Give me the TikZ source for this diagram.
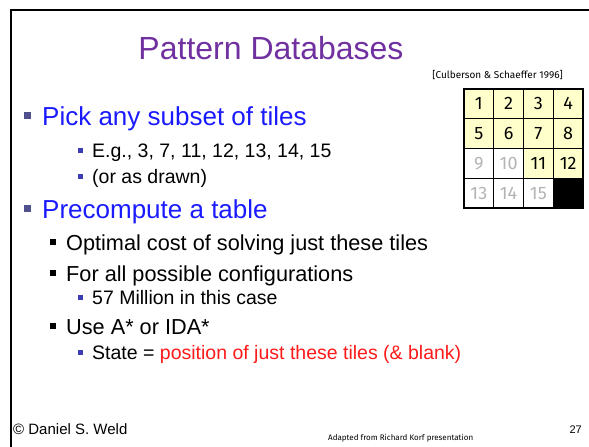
\documentclass[tikz,border=0pt]{standalone}
\usepackage{fontspec}
\setmainfont{Liberation Sans}
\newfontfamily\comicfont{Fira Sans}
\definecolor{titlepurple}{HTML}{7030A0}
\definecolor{topblue}{HTML}{1A1AFF}
\definecolor{bulletblue}{HTML}{3C3CB4}
\definecolor{bulletslate}{HTML}{50508C}
\definecolor{tileyellow}{HTML}{FFFFCC}
\definecolor{tilegray}{HTML}{B4B4B4}
\definecolor{statered}{HTML}{FF1A1A}

\begin{document}
\begin{tikzpicture}[x=1pt,y=-1pt,
  txt/.style={anchor=base west,inner sep=0pt},
  lvlone/.style={txt,font=\fontsize{26}{26}\selectfont,text=topblue},
  lvltwo/.style={txt,font=\fontsize{21.7}{21.7}\selectfont},
  lvlsub/.style={txt,font=\fontsize{19.5}{19.5}\selectfont},
  bulone/.style={fill=bulletslate,minimum size=7pt,inner sep=0pt},
  bultwo/.style={fill=black,minimum size=6pt,inner sep=0pt},
  bulsub/.style={fill=bulletblue,minimum size=5pt,inner sep=0pt},
  tile/.style={draw,line width=1.1pt,minimum size=29.75pt,inner sep=0pt,
    font=\comicfont\fontsize{18}{18}\selectfont}]
\useasboundingbox (0,0) rectangle (589,447);
\draw[line width=2.2pt] (589,10) -- (11,10) -- (11,447);
\node[anchor=base,inner sep=0pt,text=titlepurple,font=\fontsize{32}{32}\selectfont] (title) at (271,59) {Pattern Databases};
\node[anchor=base east,inner sep=0pt,font=\comicfont\fontsize{10}{10}\selectfont] (cite) at (563,78) {[Culberson \& Schaeffer 1996]};
% the 15-puzzle, pattern tiles in yellow
\foreach\n/\c/\r/\fl/\tc in {1/0/0/tileyellow/black,2/1/0/tileyellow/black,3/2/0/tileyellow/black,4/3/0/tileyellow/black,
  5/0/1/tileyellow/black,6/1/1/tileyellow/black,7/2/1/tileyellow/black,8/3/1/tileyellow/black,
  9/0/2/white/tilegray,10/1/2/white/tilegray,11/2/2/tileyellow/black,12/3/2/tileyellow/black,
  13/0/3/white/tilegray,14/1/3/white/tilegray,15/2/3/white/tilegray}{
  \node[tile,fill=\fl,text=\tc] (t\n) at (464+29.75*\c+14.875,89+29.75*\r+14.875) {\n};
}
\node[tile,fill=black] (blank) at (464+29.75*3+14.875,89+29.75*3+14.875) {};
% bullets
\node[lvlone] (pick) at (42,125) {Pick any subset of tiles};
\node[bulone] at (27.5,115.5) {};
\node[lvlsub] (eg) at (92,157) {E.g., 3, 7, 11, 12, 13, 14, 15};
\node[bulsub] at (80.5,150) {};
\node[lvlsub] (drawn) at (92,183) {(or as drawn)};
\node[bulsub] at (80.5,176) {};
\node[lvlone] (precomp) at (42,218) {Precompute a table};
\node[bulone] at (27.5,208.5) {};
\node[lvltwo] (optimal) at (66,250) {Optimal cost of solving just these tiles};
\node[bultwo] at (53,242) {};
\node[lvltwo] (configs) at (66,281) {For all possible configurations};
\node[bultwo] at (53,273) {};
\node[lvlsub] (million) at (92,304) {57 Million in this case};
\node[bulsub] at (80.5,297) {};
\node[lvltwo] (search) at (66,334) {Use A* or IDA*};
\node[bultwo] at (53,326) {};
\node[lvlsub] (state) at (92,359) {State = \textcolor{statered}{position of just these tiles (\& blank)}};
\node[bulsub] at (80.5,352) {};
% footer
\node[txt,font=\fontsize{15}{15}\selectfont] (weld) at (13,434) {© Daniel S. Weld};
\node[txt,font=\comicfont\fontsize{8}{8}\selectfont] (korf) at (328,440) {Adapted from Richard Korf presentation};
\node[anchor=base east,inner sep=0pt,font=\fontsize{11}{11}\selectfont] (page) at (582,433) {27};
\end{tikzpicture}
\end{document}
